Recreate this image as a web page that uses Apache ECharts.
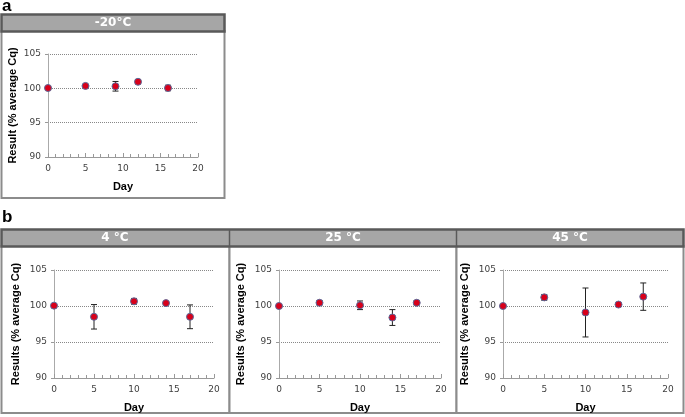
<!DOCTYPE html>
<html><head><meta charset="utf-8">
<script src="https://cdn.jsdelivr.net/npm/echarts@6/dist/echarts.min.js"></script>
<style>html,body{margin:0;padding:0;background:#fff}#c{width:685px;height:417px}</style>
</head><body><div id="c"></div>
<script>
// ---- data ----
const panelTitles = ['-20°C', '4 °C', '25 °C', '45 °C'];
const yTitles = ['Result (% average Cq)', 'Results (% average Cq)', 'Results (% average Cq)', 'Results (% average Cq)'];
const xTitle = 'Day';
const daysA = [0, 5, 9, 12, 16];
const valsA = [100.05, 100.35, 100.3, 100.95, 100.05];
const errA  = [0.1, 0.2, 0.7, 0.3, 0.4];
const days4 = [0, 5, 10, 14, 17];
const vals4 = [100.05, 98.5, 100.65, 100.4, 98.5];
const err4  = [0.1, 1.7, 0.4, 0.2, 1.65];
const days25 = [0, 5, 10, 14, 17];
const vals25 = [100.0, 100.45, 100.1, 98.4, 100.45];
const err25  = [0.1, 0.3, 0.6, 1.1, 0.3];
const days45 = [0, 5, 10, 14, 17];
const vals45 = [100.0, 101.2, 99.1, 100.2, 101.3];
const err45  = [0.1, 0.4, 3.4, 0.2, 1.9];
const yTicks = [90, 95, 100, 105];
const xTicks = [0, 5, 10, 15, 20];

const sets = [[daysA, valsA, errA], [days4, vals4, err4], [days25, vals25, err25], [days45, vals45, err45]];
const grids = [
  {left: 48, top: 54, width: 150, height: 103},
  {left: 54, top: 270, width: 160, height: 108},
  {left: 279, top: 270, width: 162, height: 108},
  {left: 503, top: 270, width: 165, height: 108}
];
const labelFont = 'DejaVu Sans';
const boldFont = 'Liberation Sans';

const xAxes = [], yAxes = [], series = [];
grids.forEach((g, i) => {
  xAxes.push({
    gridIndex: i, type: 'value', min: xTicks[0], max: xTicks[xTicks.length - 1], interval: 5,
    name: xTitle, nameLocation: 'middle', nameGap: 24,
    nameTextStyle: {fontFamily: boldFont, fontWeight: 'bold', fontSize: 11, color: '#000'},
    axisLine: {show: true, lineStyle: {color: '#999', width: 1}},
    axisTick: {show: true, inside: true, length: 4, lineStyle: {color: '#999'}},
    minorTick: {show: true, splitNumber: 5, length: 3, lineStyle: {color: '#999'}},
    axisLabel: {fontFamily: labelFont, fontSize: 9, color: '#404040', margin: 7},
    splitLine: {show: false}
  });
  yAxes.push({
    gridIndex: i, type: 'value', min: yTicks[0], max: yTicks[yTicks.length - 1], interval: 5,
    name: yTitles[i], nameLocation: 'middle', nameGap: i === 0 ? 30 : 33,
    nameTextStyle: {fontFamily: boldFont, fontWeight: 'bold', fontSize: 11, color: '#000'},
    axisLine: {show: true, lineStyle: {color: '#aaa', width: 1}},
    axisTick: {show: true, length: 3, lineStyle: {color: '#999'}},
    axisLabel: {fontFamily: labelFont, fontSize: 9, color: '#404040', margin: 7},
    splitLine: {show: true, lineStyle: {type: 'dotted', color: '#888', width: 1}}
  });
  const [d, v, e] = sets[i];
  series.push({
    type: 'custom', xAxisIndex: i, yAxisIndex: i, z: 3,
    data: d.map((x, k) => [x, v[k] - e[k], v[k] + e[k]]),
    renderItem: function (params, api) {
      const lo = api.coord([api.value(0), api.value(1)]);
      const hi = api.coord([api.value(0), api.value(2)]);
      const w = 3;
      const st = {stroke: '#222', lineWidth: 1};
      return {type: 'group', children: [
        {type: 'line', shape: {x1: lo[0], y1: lo[1], x2: hi[0], y2: hi[1]}, style: st},
        {type: 'line', shape: {x1: lo[0] - w, y1: lo[1], x2: lo[0] + w, y2: lo[1]}, style: st},
        {type: 'line', shape: {x1: hi[0] - w, y1: hi[1], x2: hi[0] + w, y2: hi[1]}, style: st}
      ]};
    }
  });
  series.push({
    type: 'scatter', xAxisIndex: i, yAxisIndex: i, z: 4,
    data: d.map((x, k) => [x, v[k]]),
    symbol: 'circle', symbolSize: 7,
    itemStyle: {color: '#d8001a', borderColor: '#5a6a9a', borderWidth: 1, opacity: 1}
  });
});

const hdrFill = '#a6a6a6', hdrStroke = '#595959', boxStroke = '#8c8c8c';
const hdrFont = 'bold 12px "DejaVu Sans"';
const graphic = [
  // panel a
  {type: 'rect', shape: {x: 1.5, y: 31, width: 223, height: 167}, style: {fill: '#fff', stroke: boxStroke, lineWidth: 2}, z: -1},
  {type: 'rect', shape: {x: 1.5, y: 14.5, width: 223, height: 17}, style: {fill: hdrFill, stroke: hdrStroke, lineWidth: 2.5}, z: 0},
  {type: 'text', x: 113, y: 23, style: {text: panelTitles[0], fill: '#fff', font: hdrFont, align: 'center', verticalAlign: 'middle'}},
  {type: 'text', x: 2, y: -2, style: {text: 'a', fill: '#000', font: 'bold 17px "Liberation Sans"'}},
  // panel b
  {type: 'text', x: 2, y: 209, style: {text: 'b', fill: '#000', font: 'bold 17px "Liberation Sans"'}},
  {type: 'rect', shape: {x: 1.5, y: 246, width: 228, height: 167}, style: {fill: '#fff', stroke: boxStroke, lineWidth: 2}, z: -1},
  {type: 'rect', shape: {x: 229.5, y: 246, width: 227, height: 167}, style: {fill: '#fff', stroke: boxStroke, lineWidth: 2}, z: -1},
  {type: 'rect', shape: {x: 456.5, y: 246, width: 227, height: 167}, style: {fill: '#fff', stroke: boxStroke, lineWidth: 2}, z: -1},
  {type: 'rect', shape: {x: 1.5, y: 229.5, width: 682, height: 17}, style: {fill: hdrFill, stroke: hdrStroke, lineWidth: 2.5}, z: 0},
  {type: 'line', shape: {x1: 229.5, y1: 229.5, x2: 229.5, y2: 246.5}, style: {stroke: hdrStroke, lineWidth: 1.5}},
  {type: 'line', shape: {x1: 456.5, y1: 229.5, x2: 456.5, y2: 246.5}, style: {stroke: hdrStroke, lineWidth: 1.5}},
  {type: 'text', x: 115, y: 238, style: {text: panelTitles[1], fill: '#fff', font: hdrFont, align: 'center', verticalAlign: 'middle'}},
  {type: 'text', x: 343, y: 238, style: {text: panelTitles[2], fill: '#fff', font: hdrFont, align: 'center', verticalAlign: 'middle'}},
  {type: 'text', x: 570, y: 238, style: {text: panelTitles[3], fill: '#fff', font: hdrFont, align: 'center', verticalAlign: 'middle'}}
];

const chart = echarts.init(document.getElementById('c'), null, {renderer: 'canvas'});
chart.setOption({
  animation: false,
  backgroundColor: '#fff',
  grid: grids,
  xAxis: xAxes,
  yAxis: yAxes,
  series: series,
  graphic: graphic
});
</script>
</body></html>
